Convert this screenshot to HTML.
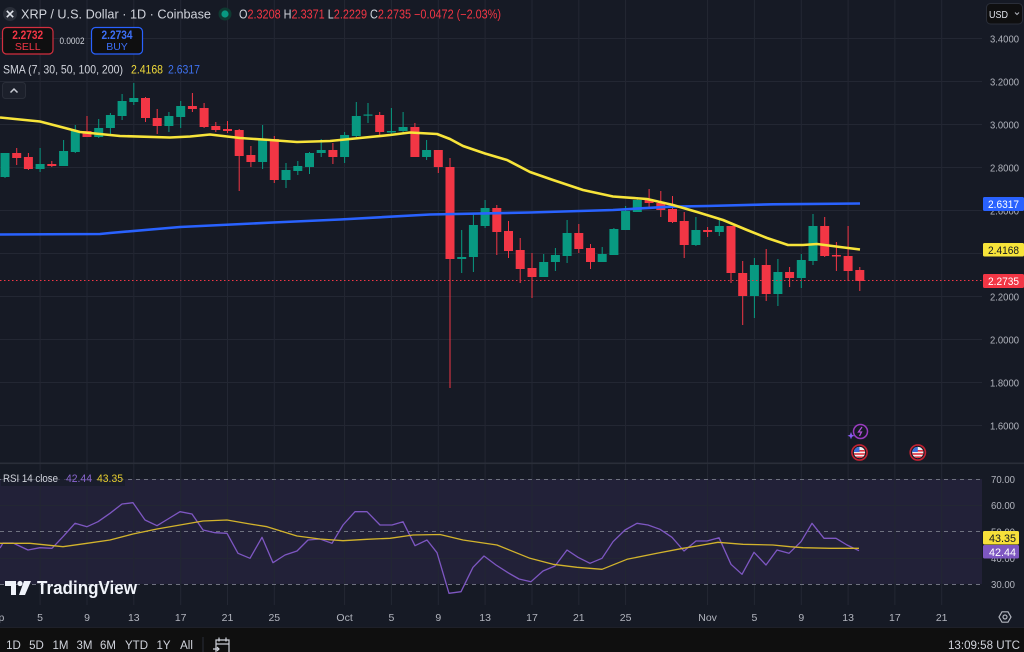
<!DOCTYPE html>
<html><head><meta charset="utf-8"><style>
html,body{margin:0;padding:0;background:#161a25;}
svg{display:block;font-family:"Liberation Sans",sans-serif;}
</style></head><body>
<svg width="1024" height="652" viewBox="0 0 1024 652" xmlns="http://www.w3.org/2000/svg">
<defs>
<clipPath id="fc1"><circle cx="859.5" cy="452.5" r="5.6"/></clipPath>
<clipPath id="fc2"><circle cx="917.8" cy="452.5" r="5.6"/></clipPath>
<clipPath id="chartclip"><rect x="0" y="0" width="982" height="463"/></clipPath>
</defs>
<rect x="0" y="0" width="1024" height="652" fill="#161a25"/>
<!-- RSI band -->
<rect x="0" y="479" width="982" height="105" fill="#7e57c2" fill-opacity="0.12"/>
<!-- grid -->
<g stroke="#232733" stroke-width="1">
<line x1="0" x2="982" y1="38.5" y2="38.5"/><line x1="0" x2="982" y1="81.5" y2="81.5"/><line x1="0" x2="982" y1="124.5" y2="124.5"/><line x1="0" x2="982" y1="167.5" y2="167.5"/><line x1="0" x2="982" y1="210.5" y2="210.5"/><line x1="0" x2="982" y1="253.5" y2="253.5"/><line x1="0" x2="982" y1="296.5" y2="296.5"/><line x1="0" x2="982" y1="339.5" y2="339.5"/><line x1="0" x2="982" y1="382.5" y2="382.5"/><line x1="0" x2="982" y1="425.5" y2="425.5"/>
<line x1="0" x2="982" y1="505.5" y2="505.5"/><line x1="0" x2="982" y1="558.5" y2="558.5"/>
<g>
<line x1="40.1" x2="40.1" y1="0" y2="605"/><line x1="87" x2="87" y1="0" y2="605"/><line x1="133.8" x2="133.8" y1="0" y2="605"/><line x1="180.7" x2="180.7" y1="0" y2="605"/><line x1="227.5" x2="227.5" y1="0" y2="605"/><line x1="274.3" x2="274.3" y1="0" y2="605"/><line x1="344.6" x2="344.6" y1="0" y2="605"/><line x1="391.4" x2="391.4" y1="0" y2="605"/><line x1="438.3" x2="438.3" y1="0" y2="605"/><line x1="485.1" x2="485.1" y1="0" y2="605"/><line x1="532" x2="532" y1="0" y2="605"/><line x1="578.8" x2="578.8" y1="0" y2="605"/><line x1="625.6" x2="625.6" y1="0" y2="605"/><line x1="707.6" x2="707.6" y1="0" y2="605"/><line x1="754.4" x2="754.4" y1="0" y2="605"/><line x1="801.3" x2="801.3" y1="0" y2="605"/><line x1="848.1" x2="848.1" y1="0" y2="605"/><line x1="894.9" x2="894.9" y1="0" y2="605"/><line x1="941.7" x2="941.7" y1="0" y2="605"/>
</g>
</g>
<!-- RSI dashed levels -->
<g stroke="#6f7280" stroke-width="1" stroke-dasharray="4 4">
<line x1="0" x2="982" y1="479.5" y2="479.5"/><line x1="0" x2="982" y1="531.5" y2="531.5"/><line x1="0" x2="982" y1="584.5" y2="584.5"/>
</g>
<!-- pane separator -->
<rect x="0" y="462.5" width="1024" height="1.6" fill="#2a2e39"/>

<!-- candles -->
<g clip-path="url(#chartclip)">
<g fill="#089981">
<rect x="0.5" y="153" width="9" height="24"/><rect x="4.5" y="153" width="1" height="25"/>
<rect x="35.6" y="164" width="9" height="5"/><rect x="39.6" y="148" width="1" height="24"/>
<rect x="59.1" y="151" width="9" height="15"/><rect x="63.1" y="140" width="1" height="26"/>
<rect x="70.8" y="131" width="9" height="21"/><rect x="74.8" y="125" width="1" height="28"/>
<rect x="94.2" y="128" width="9" height="9"/><rect x="98.2" y="119" width="1" height="19"/>
<rect x="105.9" y="115" width="9" height="13"/><rect x="109.9" y="113" width="1" height="22"/>
<rect x="117.6" y="101" width="9" height="15"/><rect x="121.6" y="94" width="1" height="26"/>
<rect x="129.3" y="98" width="9" height="4"/><rect x="133.3" y="83" width="1" height="22"/>
<rect x="164.4" y="116" width="9" height="10"/><rect x="168.4" y="112" width="1" height="20"/>
<rect x="176.2" y="106" width="9" height="11"/><rect x="180.2" y="101" width="1" height="27"/>
<rect x="258.1" y="139" width="9" height="23"/><rect x="262.1" y="125" width="1" height="44"/>
<rect x="281.5" y="170" width="9" height="10"/><rect x="285.5" y="163" width="1" height="25"/>
<rect x="293.3" y="166" width="9" height="5"/><rect x="297.3" y="161" width="1" height="14"/>
<rect x="305" y="153" width="9" height="14"/><rect x="309" y="152" width="1" height="22"/>
<rect x="316.7" y="150" width="9" height="3"/><rect x="320.7" y="139" width="1" height="18"/>
<rect x="340.1" y="135" width="9" height="22"/><rect x="344.1" y="132" width="1" height="31"/>
<rect x="351.8" y="116" width="9" height="20"/><rect x="355.8" y="102" width="1" height="35"/>
<rect x="363.5" y="114.5" width="9" height="1.2"/><rect x="367.5" y="103" width="1" height="20"/>
<rect x="386.9" y="131" width="9" height="1.5"/><rect x="390.9" y="108" width="1" height="27"/>
<rect x="398.6" y="127" width="9" height="4"/><rect x="402.6" y="112" width="1" height="21"/>
<rect x="422.1" y="150" width="9" height="7"/><rect x="426.1" y="140" width="1" height="20"/>
<rect x="457.2" y="257" width="9" height="2"/><rect x="461.2" y="230" width="1" height="43"/>
<rect x="468.9" y="225" width="9" height="32"/><rect x="472.9" y="213" width="1" height="59"/>
<rect x="480.6" y="208" width="9" height="18"/><rect x="484.6" y="200" width="1" height="28"/>
<rect x="539.2" y="262" width="9" height="15"/><rect x="543.2" y="254" width="1" height="23"/>
<rect x="550.9" y="255" width="9" height="7"/><rect x="554.9" y="248" width="1" height="23"/>
<rect x="562.6" y="233" width="9" height="23"/><rect x="566.6" y="220" width="1" height="43"/>
<rect x="597.7" y="254" width="9" height="8"/><rect x="601.7" y="247" width="1" height="15"/>
<rect x="609.4" y="229" width="9" height="26"/><rect x="613.4" y="228" width="1" height="27"/>
<rect x="621.1" y="211" width="9" height="19"/><rect x="625.1" y="206" width="1" height="24"/>
<rect x="632.8" y="200" width="9" height="12"/><rect x="636.8" y="197" width="1" height="15"/>
<rect x="691.4" y="230" width="9" height="15"/><rect x="695.4" y="217" width="1" height="29"/>
<rect x="714.8" y="226" width="9" height="6"/><rect x="718.8" y="220" width="1" height="16"/>
<rect x="749.9" y="265" width="9" height="31"/><rect x="753.9" y="258" width="1" height="60"/>
<rect x="773.4" y="272" width="9" height="22"/><rect x="777.4" y="259" width="1" height="47"/>
<rect x="796.8" y="260" width="9" height="18"/><rect x="800.8" y="254" width="1" height="34"/>
<rect x="808.5" y="226" width="9" height="35"/><rect x="812.5" y="214" width="1" height="51"/>
</g>
<g fill="#f23645">
<rect x="12.2" y="153" width="9" height="5"/><rect x="16.2" y="148" width="1" height="17"/>
<rect x="23.9" y="157" width="9" height="12"/><rect x="27.9" y="153" width="1" height="17"/>
<rect x="47.3" y="164" width="9" height="2"/><rect x="51.3" y="161" width="1" height="6"/>
<rect x="82.5" y="131" width="9" height="6"/><rect x="86.5" y="116" width="1" height="21"/>
<rect x="141" y="98" width="9" height="20"/><rect x="145" y="97" width="1" height="25"/>
<rect x="152.7" y="118" width="9" height="8"/><rect x="156.7" y="109" width="1" height="25"/>
<rect x="187.9" y="106" width="9" height="3"/><rect x="191.9" y="93" width="1" height="19"/>
<rect x="199.6" y="108" width="9" height="19"/><rect x="203.6" y="103" width="1" height="25"/>
<rect x="211.3" y="126" width="9" height="4"/><rect x="215.3" y="122" width="1" height="10"/>
<rect x="223" y="129" width="9" height="2"/><rect x="227" y="121" width="1" height="12"/>
<rect x="234.7" y="130" width="9" height="26"/><rect x="238.7" y="129" width="1" height="62"/>
<rect x="246.4" y="155" width="9" height="7"/><rect x="250.4" y="146" width="1" height="21"/>
<rect x="269.8" y="139" width="9" height="41"/><rect x="273.8" y="136" width="1" height="47"/>
<rect x="328.4" y="150" width="9" height="7"/><rect x="332.4" y="143" width="1" height="21"/>
<rect x="375.2" y="115" width="9" height="17"/><rect x="379.2" y="112" width="1" height="25"/>
<rect x="410.4" y="127" width="9" height="30"/><rect x="414.4" y="123" width="1" height="34"/>
<rect x="433.8" y="150" width="9" height="17"/><rect x="437.8" y="150" width="1" height="23"/>
<rect x="445.5" y="167" width="9" height="92"/><rect x="449.5" y="158" width="1" height="230"/>
<rect x="492.3" y="208" width="9" height="24"/><rect x="496.3" y="205" width="1" height="50"/>
<rect x="504" y="231" width="9" height="20"/><rect x="508" y="221" width="1" height="37"/>
<rect x="515.7" y="250" width="9" height="19"/><rect x="519.7" y="238" width="1" height="45"/>
<rect x="527.5" y="268" width="9" height="9"/><rect x="531.5" y="253" width="1" height="45"/>
<rect x="574.3" y="233" width="9" height="16"/><rect x="578.3" y="224" width="1" height="29"/>
<rect x="586" y="248" width="9" height="14"/><rect x="590" y="244" width="1" height="25"/>
<rect x="644.6" y="200" width="9" height="3"/><rect x="648.6" y="189" width="1" height="20"/>
<rect x="656.3" y="203" width="9" height="7"/><rect x="660.3" y="191" width="1" height="26"/>
<rect x="668" y="209" width="9" height="13"/><rect x="672" y="196" width="1" height="27"/>
<rect x="679.7" y="221" width="9" height="24"/><rect x="683.7" y="212" width="1" height="46"/>
<rect x="703.1" y="230" width="9" height="2"/><rect x="707.1" y="227" width="1" height="10"/>
<rect x="726.5" y="226" width="9" height="47"/><rect x="730.5" y="226" width="1" height="57"/>
<rect x="738.2" y="273" width="9" height="23"/><rect x="742.2" y="261" width="1" height="64"/>
<rect x="761.7" y="265" width="9" height="29"/><rect x="765.7" y="249" width="1" height="52"/>
<rect x="785.1" y="272" width="9" height="6"/><rect x="789.1" y="267" width="1" height="20"/>
<rect x="820.2" y="226" width="9" height="30"/><rect x="824.2" y="217" width="1" height="40"/>
<rect x="831.9" y="255" width="9" height="1.5"/><rect x="835.9" y="242" width="1" height="29"/>
<rect x="843.6" y="256" width="9" height="15"/><rect x="847.6" y="226" width="1" height="55"/>
<rect x="855.3" y="270" width="9" height="11"/><rect x="859.3" y="267" width="1" height="24"/>
</g>
<!-- SMA lines -->
<polyline fill="none" stroke="#2962ff" stroke-width="2.6" stroke-linejoin="round" points="0,234.5 100,234 110,233 180,227 273,222.5 340,219.5 430,214.5 530,212.5 613,210 670,206.7 707,206 773,204.3 860,203.5"/>
<polyline fill="none" stroke="#f7e43a" stroke-width="2.6" stroke-linejoin="round" points="0,117.5 40,121.5 65,128 80,132 120,136 170,137.5 190,136.5 210,134.5 240,138 270,140 297,142 330,141 360,138 390,135 410,132.5 437,134 450,139 463,146 485,153.5 507,160 530,172 553,180 583,190 613,196.5 647,199 673,205 697,212 723,220 747,230 767,238 788,245 803,245 817,244 840,247 860,249.5"/>
</g>
<!-- current price line -->
<line x1="0" x2="982" y1="280.5" y2="280.5" stroke="#f23645" stroke-width="1" stroke-dasharray="1.5 2.5"/>

<!-- RSI lines -->
<polyline fill="none" stroke="#7e57c2" stroke-width="1.3" stroke-linejoin="round" points="0,548 3,543 13,543 28,550 40,547.7 52,548.3 63,536.7 75,523.3 87,526.7 98,521.7 110,513.3 122,504 133,502.7 145,520 157,525.7 168,519 180,511.7 192,514 203,530 215,532.7 227,533.3 238,553.3 250,558.3 262,537.3 273,562.7 285,555 297,551 308,540 320,539 332,543.3 343,525 355,511.7 367,511.7 380,525 392,525 403,521.7 415,545.7 427,540 437,552.7 449,593.3 461,591.7 473,567.3 484,556 496,565 508,572.7 519,579 531,581.7 543,571 555,566 567,550 578,557.3 590,563.3 602,558.3 613,541.7 625,530 637,523.3 648,525 660,529.3 672,537.3 684,551 696,541 707,541 719,537.7 731,564.3 742,574.3 754,552.3 766,565 777,550 789,553.3 801,541.7 812,523.3 824,538.3 836,538.3 847,545 859,550.7"/>
<polyline fill="none" stroke="#d2b32c" stroke-width="1.3" stroke-linejoin="round" points="0,543.3 30,543.3 63,546.7 87,543.3 110,540 133,534 157,529 180,525 203,521 227,520 250,524 267,526.7 297,536 320,539 343,540.7 367,539.3 390,538.3 413,535 440,534.5 463,540 497,545 530,558.3 553,564.3 577,567.3 602,569.3 627,559.3 657,553.3 683,548.3 697,546 718,542.3 743,544.3 773,545 790,546.7 803,547.7 830,548.3 859,548.3"/>

<!-- header -->
<circle cx="10" cy="14" r="7" fill="#2a2e39"/>
<path d="M6.8 10.8 L13.2 17.2 M13.2 10.8 L6.8 17.2" stroke="#e0e3eb" stroke-width="1.6"/>
<text x="21" y="18.5" font-size="13" fill="#d1d4dc" textLength="190" lengthAdjust="spacingAndGlyphs">XRP / U.S. Dollar · 1D · Coinbase</text>
<circle cx="225" cy="14" r="6.5" fill="#0f3a32"/>
<circle cx="225" cy="14" r="3.6" fill="#089981"/>
<text x="239" y="18.5" font-size="12.5" fill="#f23645" textLength="262" lengthAdjust="spacingAndGlyphs"><tspan fill="#d1d4dc">O</tspan>2.3208 <tspan fill="#d1d4dc">H</tspan>2.3371 <tspan fill="#d1d4dc">L</tspan>2.2229 <tspan fill="#d1d4dc">C</tspan>2.2735 −0.0472 (−2.03%)</text>

<rect x="2.5" y="27.5" width="50.5" height="26.5" rx="4" fill="#0f0f10" stroke="#d32f3f" stroke-width="1.2"/>
<text x="27.7" y="39" font-size="11.5" font-weight="bold" fill="#f23645" text-anchor="middle" textLength="31" lengthAdjust="spacingAndGlyphs">2.2732</text>
<text x="27.7" y="50" font-size="10.5" fill="#f23645" text-anchor="middle">SELL</text>
<text x="72" y="44" font-size="9" fill="#d1d4dc" text-anchor="middle" textLength="25" lengthAdjust="spacingAndGlyphs">0.0002</text>
<rect x="91.5" y="27.5" width="51" height="26.5" rx="4" fill="#0f0f10" stroke="#2962ff" stroke-width="1.2"/>
<text x="117" y="39" font-size="11.5" font-weight="bold" fill="#3d6ff5" text-anchor="middle" textLength="31" lengthAdjust="spacingAndGlyphs">2.2734</text>
<text x="117" y="50" font-size="10.5" fill="#3d6ff5" text-anchor="middle">BUY</text>

<text x="3" y="73.5" font-size="12" fill="#d1d4dc" textLength="120" lengthAdjust="spacingAndGlyphs">SMA (7, 30, 50, 100, 200)</text>
<text x="131" y="73.5" font-size="12" fill="#efd93a" textLength="32" lengthAdjust="spacingAndGlyphs">2.4168</text>
<text x="168" y="73.5" font-size="12" fill="#3f72f0" textLength="32" lengthAdjust="spacingAndGlyphs">2.6317</text>

<rect x="2.5" y="82.5" width="23" height="16" rx="3" fill="#1c202b" stroke="#2a2e39"/>
<path d="M10.5 92.5 L14 89 L17.5 92.5" fill="none" stroke="#c8cbd3" stroke-width="1.5"/>

<!-- USD button -->
<rect x="986.5" y="3.5" width="36" height="20.5" rx="4" fill="#0f0f10" stroke="#2a2e39"/>
<text x="989" y="18" font-size="10.5" fill="#e0e3eb" textLength="19" lengthAdjust="spacingAndGlyphs">USD</text>
<path d="M1015 12.5 L1017 14.5 L1019 12.5" fill="none" stroke="#b2b5be" stroke-width="1"/>

<!-- price axis labels -->
<g font-size="10.5" fill="#b2b5be" text-anchor="end">
<text x="1019" y="42.3" textLength="29" lengthAdjust="spacingAndGlyphs">3.4000</text>
<text x="1019" y="85.3" textLength="29" lengthAdjust="spacingAndGlyphs">3.2000</text>
<text x="1019" y="128.3" textLength="29" lengthAdjust="spacingAndGlyphs">3.0000</text>
<text x="1019" y="171.3" textLength="29" lengthAdjust="spacingAndGlyphs">2.8000</text>
<text x="1019" y="214.3" textLength="29" lengthAdjust="spacingAndGlyphs">2.6000</text>
<text x="1019" y="300.3" textLength="29" lengthAdjust="spacingAndGlyphs">2.2000</text>
<text x="1019" y="343.3" textLength="29" lengthAdjust="spacingAndGlyphs">2.0000</text>
<text x="1019" y="386.3" textLength="29" lengthAdjust="spacingAndGlyphs">1.8000</text>
<text x="1019" y="429.3" textLength="29" lengthAdjust="spacingAndGlyphs">1.6000</text>
<text x="1015" y="483" textLength="24" lengthAdjust="spacingAndGlyphs">70.00</text>
<text x="1015" y="509" textLength="24" lengthAdjust="spacingAndGlyphs">60.00</text>
<text x="1015" y="535.5" textLength="24" lengthAdjust="spacingAndGlyphs">50.00</text>
<text x="1015" y="562" textLength="24" lengthAdjust="spacingAndGlyphs">40.00</text>
<text x="1015" y="588" textLength="24" lengthAdjust="spacingAndGlyphs">30.00</text>
</g>
<rect x="983" y="197" width="41" height="14" rx="1.5" fill="#2962ff"/>
<text x="1019" y="208" font-size="11" fill="#ffffff" text-anchor="end" textLength="31" lengthAdjust="spacingAndGlyphs">2.6317</text>
<rect x="983" y="243" width="41" height="13.5" rx="1.5" fill="#f7e43a"/>
<text x="1019" y="254" font-size="11" fill="#131722" text-anchor="end" textLength="31" lengthAdjust="spacingAndGlyphs">2.4168</text>
<rect x="983" y="274" width="41" height="14" rx="1.5" fill="#f23645"/>
<text x="1019" y="285" font-size="11" fill="#ffffff" text-anchor="end" textLength="31" lengthAdjust="spacingAndGlyphs">2.2735</text>
<rect x="983" y="531" width="36" height="13.5" rx="1.5" fill="#f7e03a"/>
<text x="1016" y="542" font-size="11" fill="#131722" text-anchor="end" textLength="27" lengthAdjust="spacingAndGlyphs">43.35</text>
<rect x="983" y="545" width="36" height="13.5" rx="1.5" fill="#7e57c2"/>
<text x="1016" y="556" font-size="11" fill="#ffffff" text-anchor="end" textLength="27" lengthAdjust="spacingAndGlyphs">42.44</text>

<!-- RSI legend -->
<rect x="1" y="470" width="124" height="16" fill="#161a25" fill-opacity="0.6"/>
<text x="3" y="482" font-size="11" fill="#d1d4dc" textLength="55" lengthAdjust="spacingAndGlyphs">RSI 14 close</text>
<text x="66" y="482" font-size="11" fill="#8a66d0" textLength="26" lengthAdjust="spacingAndGlyphs">42.44</text>
<text x="97" y="482" font-size="11" fill="#e8cf30" textLength="26" lengthAdjust="spacingAndGlyphs">43.35</text>

<!-- markers -->
<circle cx="860.5" cy="431.5" r="7" fill="#161a25" stroke="#9a3cc0" stroke-width="1.5"/>
<path d="M862 427 L858.5 432 L861.5 432 L859.5 436" fill="none" stroke="#b050d8" stroke-width="1.3"/>
<path d="M851 432 L852 434.7 L854.5 435.7 L852 436.7 L851 439.2 L850 436.7 L847.5 435.7 L850 434.7 Z" fill="#8a5cf5"/>
<circle cx="859.5" cy="452.5" r="7.6" fill="#161a25" stroke="#c22232" stroke-width="1.6"/>
<g clip-path="url(#fc1)">
<rect x="853" y="446" width="13" height="13" fill="#f0f0f0"/>
<rect x="853" y="450" width="13" height="1.6" fill="#e03040"/><rect x="853" y="453.2" width="13" height="1.6" fill="#e03040"/><rect x="853" y="456.4" width="13" height="1.6" fill="#e03040"/>
<rect x="853" y="446" width="6.5" height="6" fill="#3a6fd8"/>
</g>
<circle cx="917.8" cy="452.5" r="7.6" fill="#161a25" stroke="#c22232" stroke-width="1.6"/>
<g clip-path="url(#fc2)">
<rect x="911" y="446" width="13" height="13" fill="#f0f0f0"/>
<rect x="911" y="450" width="13" height="1.6" fill="#e03040"/><rect x="911" y="453.2" width="13" height="1.6" fill="#e03040"/><rect x="911" y="456.4" width="13" height="1.6" fill="#e03040"/>
<rect x="911" y="446" width="6.8" height="6" fill="#3a6fd8"/>
</g>

<!-- TradingView logo -->
<g fill="#f0f3fa">
<path d="M5 581 H16 V595 H11 V586 H5 Z"/>
<circle cx="20" cy="583.5" r="2.6"/>
<path d="M24 581 H31 L25 595 H19 Z"/>
</g>
<text x="37" y="594" font-size="18.5" font-weight="bold" fill="#f0f3fa" textLength="100" lengthAdjust="spacingAndGlyphs">TradingView</text>

<!-- time axis labels -->
<g font-size="10.5" fill="#b2b5be" text-anchor="middle">
<text x="-5" y="621">Sep</text>
<text x="40.1" y="621">5</text><text x="87" y="621">9</text><text x="133.8" y="621">13</text><text x="180.7" y="621">17</text><text x="227.5" y="621">21</text><text x="274.3" y="621">25</text>
<text x="344.6" y="621">Oct</text><text x="391.4" y="621">5</text><text x="438.3" y="621">9</text><text x="485.1" y="621">13</text><text x="532" y="621">17</text><text x="578.8" y="621">21</text><text x="625.6" y="621">25</text>
<text x="707.6" y="621">Nov</text><text x="754.4" y="621">5</text><text x="801.3" y="621">9</text><text x="848.1" y="621">13</text><text x="894.9" y="621">17</text><text x="941.7" y="621">21</text>
</g>
<!-- gear -->
<path d="M1002 611.8 L1008 611.8 L1011 617 L1008 622.2 L1002 622.2 L999 617 Z" fill="none" stroke="#b2b5be" stroke-width="1.2"/>
<circle cx="1005" cy="617" r="2" fill="none" stroke="#b2b5be" stroke-width="1.2"/>

<!-- bottom toolbar -->
<rect x="0" y="628" width="1024" height="24" fill="#0f0f0f"/>
<rect x="0" y="627" width="1024" height="1" fill="#1e2029"/>
<g font-size="11.5" fill="#d1d4dc" text-anchor="middle">
<text x="13.5" y="649">1D</text><text x="36.5" y="649">5D</text><text x="60.5" y="649">1M</text><text x="84.5" y="649">3M</text><text x="108" y="649">6M</text><text x="136.5" y="649">YTD</text><text x="163.5" y="649">1Y</text><text x="186.5" y="649">All</text>
</g>
<rect x="202.5" y="637" width="1" height="15" fill="#2a2e39"/>
<g fill="none" stroke="#d1d4dc" stroke-width="1.2">
<path d="M216 652 V640 H229 V652"/><path d="M216 644 H229"/><path d="M219 637.5 V641.5 M226 637.5 V641.5"/>
<path d="M213 649 H219 M217 647 L219 649 L217 651"/>
</g>
<text x="1020" y="649" font-size="11.5" fill="#d1d4dc" text-anchor="end" textLength="72" lengthAdjust="spacingAndGlyphs">13:09:58 UTC</text>
</svg>
</body></html>
